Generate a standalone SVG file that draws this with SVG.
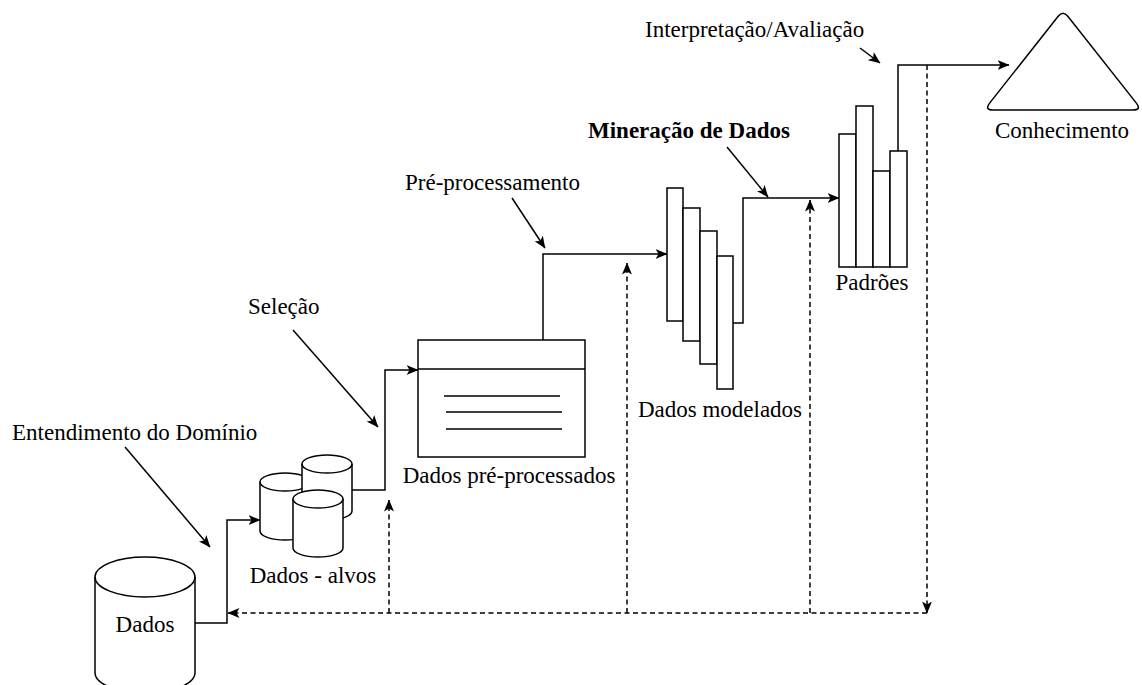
<svg xmlns="http://www.w3.org/2000/svg" width="1142" height="685" viewBox="0 0 1142 685">
  <style>
    .shape { fill: #ffffff; stroke: #000000; stroke-width: 1.5; }
    .line { fill: none; stroke: #000000; stroke-width: 1.5; }
    .dash { fill: none; stroke: #000000; stroke-width: 1.5; stroke-dasharray: 5 3.5; }
    .label { font-size: 23px; fill: #000000; }
    .bold { font-weight: bold; }
  </style>
  <defs>
    <marker id="arrow" viewBox="0 0 12 10" refX="11.5" refY="5" markerWidth="12" markerHeight="10" markerUnits="userSpaceOnUse" orient="auto">
      <path d="M0,0 L12,5 L0,10 L3,5 Z" fill="#000000" stroke="none"/>
    </marker>
  </defs>
  <rect width="1142" height="685" fill="#ffffff"/>

  <g font-family="Liberation Serif, DejaVu Serif, serif">
  <!-- process step labels with pointer arrows -->
  <g id="step-labels">
    <text class="label" x="12" y="440">Entendimento do Domínio</text>
    <text class="label" x="248" y="314">Seleção</text>
    <text class="label" x="405" y="190">Pré-processamento</text>
    <text class="label bold" x="588" y="138">Mineração de Dados</text>
    <text class="label" x="645" y="37">Interpretação/Avaliação</text>
    <path class="line" d="M125,447 L210,547" marker-end="url(#arrow)"/>
    <path class="line" d="M293,330 L378,427" marker-end="url(#arrow)"/>
    <path class="line" d="M512,198 L545,248" marker-end="url(#arrow)"/>
    <path class="line" d="M727,147 L768,197" marker-end="url(#arrow)"/>
    <path class="line" d="M860,48 L880,63" marker-end="url(#arrow)"/>
  </g>

  <!-- connectors between the stages -->
  <g id="connectors">
    <path class="line" d="M195,623 H227 V520 H260" marker-end="url(#arrow)"/>
    <path class="line" d="M352,490 H385 V370 H418" marker-end="url(#arrow)"/>
    <path class="line" d="M543,340 V254 H667" marker-end="url(#arrow)"/>
    <path class="line" d="M733,323 H743 V198 H839" marker-end="url(#arrow)"/>
    <path class="line" d="M898,151 V65 H1009" marker-end="url(#arrow)"/>
    <!-- feedback loop -->
    <path class="dash" d="M927,65 V613" marker-end="url(#arrow)"/>
    <path class="dash" d="M927,613 H228" marker-end="url(#arrow)"/>
    <path class="dash" d="M389,613 V500" marker-end="url(#arrow)"/>
    <path class="dash" d="M627,613 V263" marker-end="url(#arrow)"/>
    <path class="dash" d="M810,613 V200" marker-end="url(#arrow)"/>
  </g>

  <!-- raw data store -->
  <g id="dados">
    <path class="shape" d="M95,577 A50,20 0 0,1 195,577 V673 A50,20 0 0,1 95,673 Z"/>
    <path class="line" d="M95,577 A50,20 0 0,0 195,577"/>
    <text class="label" x="145" y="632" text-anchor="middle">Dados</text>
  </g>

  <!-- target data: three stacked cylinders -->
  <g id="dados-alvos">
    <path class="shape" d="M260,482 A25,9 0 0,1 310,482 V531 A25,9 0 0,1 260,531 Z"/>
    <path class="line" d="M260,482 A25,9 0 0,0 310,482"/>
    <path class="shape" d="M302,464 A25,9 0 0,1 352,464 V511 A25,9 0 0,1 302,511 Z"/>
    <path class="line" d="M302,464 A25,9 0 0,0 352,464"/>
    <path class="shape" d="M293,499 A25,9 0 0,1 343,499 V548 A25,9 0 0,1 293,548 Z"/>
    <path class="line" d="M293,499 A25,9 0 0,0 343,499"/>
    <text class="label" x="313" y="583" text-anchor="middle">Dados - alvos</text>
  </g>

  <!-- preprocessed data: window-like document -->
  <g id="dados-pre-processados">
    <rect class="shape" x="418" y="340" width="167" height="117"/>
    <path class="line" d="M418,369 H585 M444,396 H560 M446,412 H562 M446,429 H562"/>
    <text class="label" x="509" y="483" text-anchor="middle">Dados pré-processados</text>
  </g>

  <!-- modelled data: staggered bars -->
  <g id="dados-modelados">
    <rect class="shape" x="667" y="188" width="16" height="133"/>
    <rect class="shape" x="683" y="208" width="17" height="133"/>
    <rect class="shape" x="700" y="231" width="17" height="133"/>
    <rect class="shape" x="717" y="256" width="16" height="133"/>
    <text class="label" x="720" y="417" text-anchor="middle">Dados modelados</text>
  </g>

  <!-- patterns: bar chart -->
  <g id="padroes">
    <rect class="shape" x="839" y="134" width="17" height="133"/>
    <rect class="shape" x="856" y="106" width="17" height="161"/>
    <rect class="shape" x="873" y="171" width="17" height="96"/>
    <rect class="shape" x="890" y="151" width="17" height="116"/>
    <text class="label" x="872" y="290" text-anchor="middle">Padrões</text>
  </g>

  <!-- knowledge: rounded triangle -->
  <g id="conhecimento">
    <path class="shape" d="M993,110 H1133 Q1142,110 1136,102.6 L1068,16.5 Q1063,10 1058,16.5 L990,102.6 Q984,110 993,110 Z"/>
    <text class="label" x="1062" y="138" text-anchor="middle">Conhecimento</text>
  </g>
  </g>
</svg>
